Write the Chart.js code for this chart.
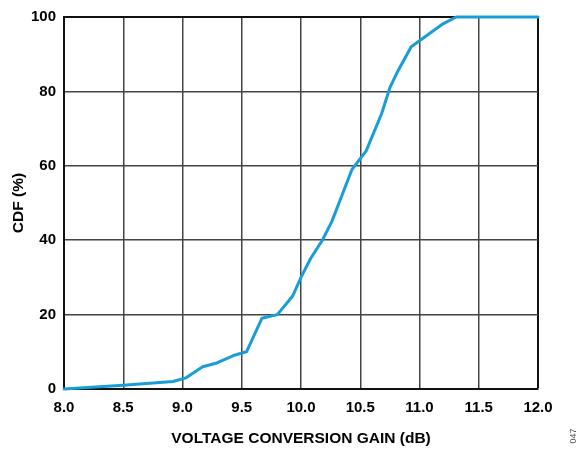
<!DOCTYPE html>
<html>
<head>
<meta charset="utf-8">
<script src="https://cdn.jsdelivr.net/npm/chart.js@4/dist/chart.umd.min.js"></script>
<style>
html,body{margin:0;padding:0;background:#fff;}
#wrap{width:581px;height:450px;position:relative;}
</style>
</head>
<body>
<div id="wrap"><canvas id="c" width="581" height="450"></canvas></div>
<script>
const gainDb = [8.0, 8.5, 8.92, 9.03, 9.17, 9.29, 9.43, 9.54, 9.67, 9.8, 9.93, 10.0, 10.08, 10.18, 10.26, 10.43, 10.55, 10.68, 10.75, 10.81, 10.93, 11.19, 11.31, 12.0];
const cdfPct = [0, 1, 2, 3, 6, 7, 9, 10, 19, 20, 25, 30, 35, 40, 45, 59, 64, 74, 81, 85, 92, 98, 100, 100];
const xTicks = [8.0, 8.5, 9.0, 9.5, 10.0, 10.5, 11.0, 11.5, 12.0];
const yTicks = [0, 20, 40, 60, 80, 100];
const xTitle = 'VOLTAGE CONVERSION GAIN (dB)';
const yTitle = 'CDF (%)';
const figId = '047';

const FONT = 'Liberation Sans, Arial, sans-serif';
const points = gainDb.map((x, i) => ({x: x, y: cdfPct[i]}));

const idPlugin = {
  id: 'figid',
  afterDraw(chart) {
    const ctx = chart.ctx;
    ctx.save();
    ctx.translate(574, 436);
    ctx.rotate(-Math.PI / 2);
    ctx.font = '9px ' + FONT;
    ctx.fillStyle = '#555';
    ctx.textAlign = 'center';
    ctx.textBaseline = 'middle';
    ctx.fillText(figId, 0, 0);
    ctx.restore();
  }
};

new Chart(document.getElementById('c'), {
  type: 'line',
  data: {
    datasets: [{
      data: points,
      borderColor: '#189dd8',
      borderWidth: 3,
      pointRadius: 0,
      tension: 0,
      fill: false,
      borderJoinStyle: 'round',
      borderCapStyle: 'round',
      clip: 4
    }]
  },
  plugins: [idPlugin],
  options: {
    responsive: false,
    animation: false,
    events: [],
    layout: {padding: {left: 0, right: 43, top: 15, bottom: 0}},
    plugins: {legend: {display: false}, tooltip: {enabled: false}},
    scales: {
      x: {
        type: 'linear',
        min: 8, max: 12,
        afterBuildTicks(s) { s.ticks = xTicks.map(v => ({value: v})); },
        afterFit(s) { s.height = 61; },
        border: {display: true, color: '#111', width: 2},
        grid: {
          drawTicks: false,
          color: c => (c.tick && c.tick.value === 12) ? '#111' : '#444',
          lineWidth: c => (c.tick && c.tick.value === 12) ? 2 : 1.5
        },
        ticks: {
          padding: 10,
          color: '#000',
          font: {family: FONT, size: 15, weight: 'bold'},
          maxRotation: 0,
          callback: v => Number(v).toFixed(1)
        },
        title: {
          display: true,
          text: xTitle,
          color: '#000',
          font: {family: FONT, size: 15.5, weight: 'bold'},
          padding: {top: 0, bottom: 2}
        }
      },
      y: {
        type: 'linear',
        min: 0, max: 100,
        afterBuildTicks(s) { s.ticks = yTicks.map(v => ({value: v})); },
        afterFit(s) { s.width = 64; },
        border: {display: true, color: '#111', width: 2},
        grid: {
          drawTicks: false,
          color: c => (c.tick && c.tick.value === 100) ? '#111' : '#444',
          lineWidth: c => (c.tick && c.tick.value === 100) ? 2 : 1.5
        },
        ticks: {
          padding: 8,
          color: '#000',
          font: {family: FONT, size: 15, weight: 'bold'}
        },
        title: {
          display: true,
          text: yTitle,
          color: '#000',
          font: {family: FONT, size: 15.5, weight: 'bold'},
          padding: {top: 9, bottom: 0}
        }
      }
    }
  }
});
</script>
</body>
</html>
